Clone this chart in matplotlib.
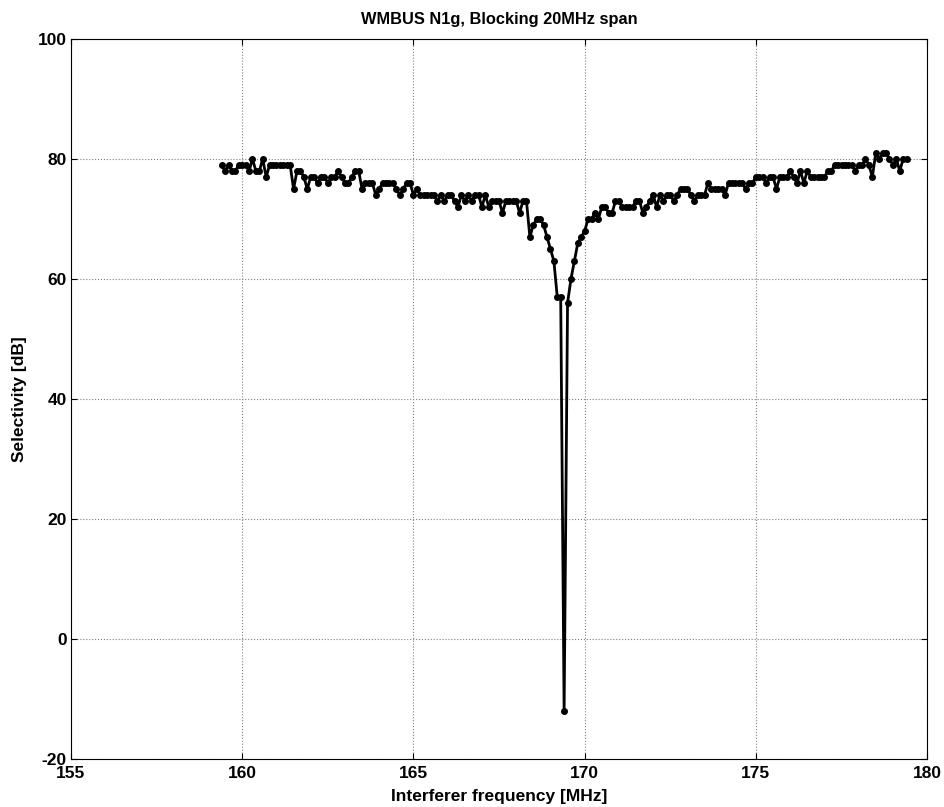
import numpy as np
import matplotlib
matplotlib.use('Agg')
import matplotlib.pyplot as plt

# sweep settings (MHz)
f_start = 159.4
f_step = 0.1

# measured selectivity [dB], one value per sweep point
sel = [79, 78, 79, 78, 78, 79, 79, 79, 78, 80,
       78, 78, 80, 77, 79, 79, 79, 79, 79, 79,
       79, 75, 78, 78, 77, 75, 77, 77, 76, 77,
       77, 76, 77, 77, 78, 77, 76, 76, 77, 78,
       78, 75, 76, 76, 76, 74, 75, 76, 76, 76,
       76, 75, 74, 75, 76, 76, 74, 75, 74, 74,
       74, 74, 74, 73, 74, 73, 74, 74, 73, 72,
       74, 73, 74, 73, 74, 74, 72, 74, 72, 73,
       73, 73, 71, 73, 73, 73, 73, 71, 73, 73,
       67, 69, 70, 70, 69, 67, 65, 63, 57, 57,
       -12,
       56, 60, 63, 66, 67, 68, 70, 70, 71,
       70, 72, 72, 71, 71, 73, 73, 72, 72, 72,
       72, 73, 73, 71, 72, 73, 74, 72, 74, 73,
       74, 74, 73, 74, 75, 75, 75, 74, 73, 74,
       74, 74, 76, 75, 75, 75, 75, 74, 76, 76,
       76, 76, 76, 75, 76, 76, 77, 77, 77, 76,
       77, 77, 75, 77, 77, 77, 78, 77, 76, 78,
       76, 78, 77, 77, 77, 77, 77, 78, 78, 79,
       79, 79, 79, 79, 79, 78, 79, 79, 80, 79,
       77, 81, 80, 81, 81, 80, 79, 80, 78, 80,
       80]

freq = np.round(f_start + f_step * np.arange(len(sel)), 2)

xticks = [155, 160, 165, 170, 175, 180]
yticks = [-20, 0, 20, 40, 60, 80, 100]

plt.rcParams['font.family'] = ['Liberation Sans', 'DejaVu Sans']
plt.rcParams['font.weight'] = 'bold'
plt.rcParams['axes.unicode_minus'] = False

fig = plt.figure(figsize=(9.45, 8.07), dpi=100)
ax = fig.add_axes([0.0751, 0.0595, 0.906, 0.8922])

ax.plot(freq, sel, color='black', linewidth=2, marker='.', markersize=8)

ax.set_xlim(155, 180)
ax.set_ylim(-20, 100)
ax.set_xticks(xticks)
ax.set_yticks(yticks)
ax.grid(True, linestyle=':', color='#808080', linewidth=0.8)
ax.tick_params(direction='in', length=4, top=True, right=True, labelsize=12.5)
ax.tick_params(axis='x', pad=5)
ax.tick_params(axis='y', pad=3)
for lab in ax.get_xticklabels() + ax.get_yticklabels():
    lab.set_fontweight('bold')
for s in ax.spines.values():
    s.set_linewidth(0.8)

ax.set_xlabel('Interferer frequency [MHz]', fontsize=12.5, fontweight='bold', labelpad=6)
ax.set_ylabel('Selectivity [dB]', fontsize=12.5, fontweight='bold', labelpad=8)
ax.set_title('WMBUS N1g, Blocking 20MHz span', fontsize=11.8, fontweight='bold', pad=11)

fig.savefig('out.png', dpi=100)
